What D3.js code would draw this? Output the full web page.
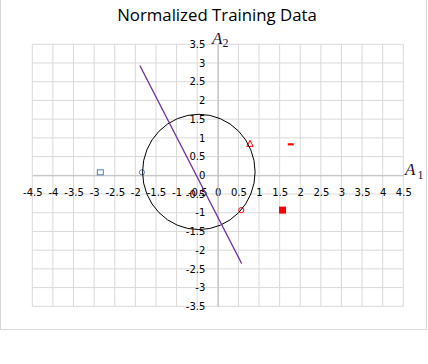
<!DOCTYPE html>
<html><head><meta charset="utf-8">
<script src="https://cdn.jsdelivr.net/npm/d3@7"></script>
<style>html,body{margin:0;padding:0;background:#fff;overflow:hidden}</style>
</head><body>
<svg id="c" width="428" height="364"></svg>
<script>
const chartTitle = "Normalized Training Data";
const xTickValues = [-4.5,-4,-3.5,-3,-2.5,-2,-1.5,-1,-0.5,0,0.5,1,1.5,2,2.5,3,3.5,4,4.5];
const yTickValues = [-3.5,-3,-2.5,-2,-1.5,-1,-0.5,0,0.5,1,1.5,2,2.5,3,3.5];
const blueSquaresX = [-2.85], blueSquaresY = [0.08];
const blueCirclesX = [-1.84], blueCirclesY = [0.08];
const redTrianglesX = [0.78], redTrianglesY = [0.84];
const redDashesX = [1.77], redDashesY = [0.83];
const redSquaresX = [1.57], redSquaresY = [-0.93];
const redCirclesX = [0.57], redCirclesY = [-0.93];
const boundaryX = [-1.89, 0.58];
const boundaryY = [2.93, -2.36];
const circleCenter = [-0.46, 0.09];
const circleRadii = [1.365, 1.54];

const svg = d3.select("#c");
const m = {l: 32.3, r: 403.3, t: 44.3, b: 306.3};
const x = d3.scaleLinear().domain([-4.5, 4.5]).range([m.l, m.r]);
const y = d3.scaleLinear().domain([-3.5, 3.5]).range([m.b, m.t]);
const zip = (a, b) => a.map((v, i) => [v, b[i]]);

svg.append("rect").attr("x", 0.5).attr("y", -1).attr("width", 426).attr("height", 330.5)
  .attr("fill", "#fff").attr("stroke", "#d9d9d9");

svg.append("text").attr("x", 217).attr("y", 21).attr("text-anchor", "middle")
  .attr("font-family", "Open Sans").attr("font-size", 16.8).attr("fill", "#000")
  .text(chartTitle);

// grid
const grid = svg.append("g").attr("stroke", "#d9d9d9").attr("stroke-width", 1);
xTickValues.forEach(v => grid.append("line").attr("x1", x(v)).attr("x2", x(v)).attr("y1", m.t).attr("y2", m.b));
yTickValues.forEach(v => grid.append("line").attr("y1", y(v)).attr("y2", y(v)).attr("x1", m.l).attr("x2", m.r));

// axes through origin
const xAxis = d3.axisBottom(x).tickValues(xTickValues).tickSize(0).tickFormat(d => String(d));
const gx = svg.append("g").attr("transform", `translate(0,${y(0)})`).call(xAxis);
gx.select(".domain").attr("stroke", "#bfbfbf");
gx.selectAll("text").attr("font-family", "DejaVu Sans").attr("font-size", 10).attr("fill", "#000")
  .attr("dy", 0).attr("y", 21);
const yAxis = d3.axisLeft(y).tickValues(yTickValues).tickSize(0).tickFormat(d => String(d));
const gy = svg.append("g").attr("transform", `translate(${x(0)},0)`).call(yAxis);
gy.select(".domain").attr("stroke", "#bfbfbf");
gy.selectAll("text").attr("font-family", "DejaVu Sans").attr("font-size", 10).attr("fill", "#000")
  .attr("x", -12.5);
svg.selectAll(".tick line").remove();

// axis titles
const a2 = svg.append("text").attr("x", 212).attr("y", 44).attr("font-family", "Liberation Serif")
  .attr("font-size", 17).attr("fill", "#1a1030");
a2.append("tspan").attr("font-style", "italic").text("A");
a2.append("tspan").attr("font-size", 12).attr("dy", 3).text("2");
const a1 = svg.append("text").attr("x", 405).attr("y", 175).attr("font-family", "Liberation Serif")
  .attr("font-size", 17).attr("fill", "#1a1030");
a1.append("tspan").attr("font-style", "italic").text("A");
a1.append("tspan").attr("font-size", 12).attr("dy", 4).attr("dx", 2).text("1");

// markers
const blue = "#4f81bd", red = "#ff0000";
svg.selectAll(".bs").data(zip(blueSquaresX, blueSquaresY)).enter().append("rect")
  .attr("x", d => x(d[0]) - 3).attr("y", d => y(d[1]) - 2.5).attr("width", 6).attr("height", 5)
  .attr("fill", "none").attr("stroke", blue);
svg.selectAll(".bc").data(zip(blueCirclesX, blueCirclesY)).enter().append("circle")
  .attr("cx", d => x(d[0])).attr("cy", d => y(d[1])).attr("r", 2.6)
  .attr("fill", "none").attr("stroke", blue);
svg.selectAll(".rt").data(zip(redTrianglesX, redTrianglesY)).enter().append("path")
  .attr("d", d => `M${x(d[0])},${y(d[1]) - 3.5}L${x(d[0]) + 3.2},${y(d[1]) + 2.5}L${x(d[0]) - 3.2},${y(d[1]) + 2.5}Z`)
  .attr("fill", "none").attr("stroke", red);
svg.selectAll(".rd").data(zip(redDashesX, redDashesY)).enter().append("rect")
  .attr("x", d => x(d[0]) - 3).attr("y", d => y(d[1]) - 1).attr("width", 6).attr("height", 2.2)
  .attr("fill", red);
svg.selectAll(".rs").data(zip(redSquaresX, redSquaresY)).enter().append("rect")
  .attr("x", d => x(d[0]) - 3.5).attr("y", d => y(d[1]) - 3.5).attr("width", 7).attr("height", 7)
  .attr("fill", red);
svg.selectAll(".rc").data(zip(redCirclesX, redCirclesY)).enter().append("circle")
  .attr("cx", d => x(d[0])).attr("cy", d => y(d[1])).attr("r", 2.6)
  .attr("fill", "none").attr("stroke", red);

// circle
svg.append("ellipse").attr("cx", x(circleCenter[0])).attr("cy", y(circleCenter[1]))
  .attr("rx", x(circleCenter[0] + circleRadii[0]) - x(circleCenter[0]))
  .attr("ry", y(circleCenter[1]) - y(circleCenter[1] + circleRadii[1]))
  .attr("fill", "none").attr("stroke", "#000").attr("stroke-width", 1);

// boundary line
svg.append("path").datum(zip(boundaryX, boundaryY))
  .attr("d", d3.line().x(d => x(d[0])).y(d => y(d[1])))
  .attr("fill", "none").attr("stroke", "#7030a0").attr("stroke-width", 1.2);
</script>
</body></html>
